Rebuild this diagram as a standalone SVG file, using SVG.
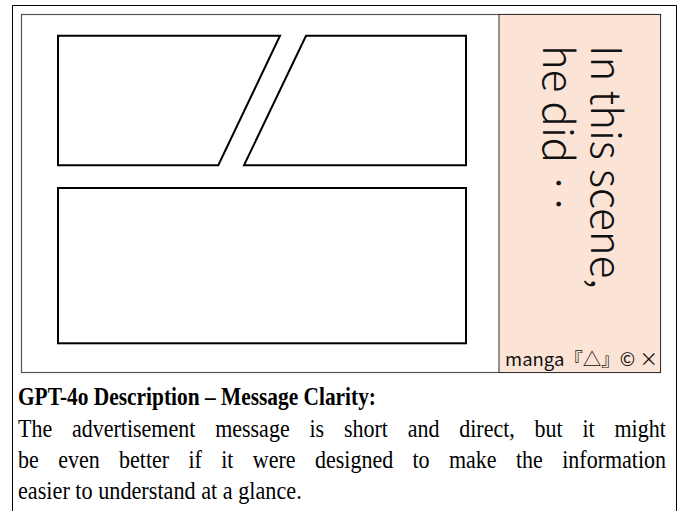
<svg xmlns="http://www.w3.org/2000/svg" width="683" height="511" viewBox="0 0 683 511">
<style>
.panel{fill:#fff;stroke:#000;stroke-width:2;stroke-linejoin:miter}
.vt{font-family:"Noto Sans CJK JP","Noto Sans",sans-serif;font-size:42px;font-weight:300;fill:#111;writing-mode:vertical-rl}
.sig{font-family:"Noto Sans CJK JP","Noto Sans",sans-serif;font-size:18.5px;fill:#111}
.cap{font-family:"Liberation Serif","Times New Roman",serif;font-size:26px;fill:#000}
.capb{font-weight:bold}
</style>
<rect width="683" height="511" fill="#fff"/>
<g id="frame">
<path d="M12.5 511 V5.5 H676.5 V511" fill="none" stroke="#000" stroke-width="1"/>
<rect x="21.5" y="14.5" width="639" height="358" fill="#fff" stroke="#555" stroke-width="1.2"/>
</g>
<g id="panel-top-left"><polygon class="panel" points="58,35.7 280,35.7 218.3,165.3 58,165.3"/></g>
<g id="panel-top-right"><polygon class="panel" points="306,35.7 466,35.7 466,165.3 244,165.3"/></g>
<g id="panel-bottom"><rect class="panel" x="58" y="188" width="408" height="155.3"/></g>
<g id="caption-strip">
<rect x="499" y="14.5" width="161.5" height="358" fill="#fbe3d6" stroke="#333" stroke-width="1"/>
<text class="vt" x="609" y="45">In this scene,</text>
<text class="vt" x="561" y="45">he did ‥</text>
<text class="sig" x="505" y="366">manga『△』© ×</text>
</g>
<g id="connectors"></g>
<g id="description">
<text class="cap capb" transform="scale(0.823,1)" x="21.87" y="405">GPT-4o Description – Message Clarity:</text>
<text class="cap" transform="scale(0.846,1)" x="21.28" y="437" word-spacing="16.9">The advertisement message is short and direct, but it might</text>
<text class="cap" transform="scale(0.846,1)" x="21.28" y="468" word-spacing="16.4">be even better if it were designed to make the information</text>
<text class="cap" transform="scale(0.855,1)" x="21.05" y="499">easier to understand at a glance.</text>
</g>
</svg>
